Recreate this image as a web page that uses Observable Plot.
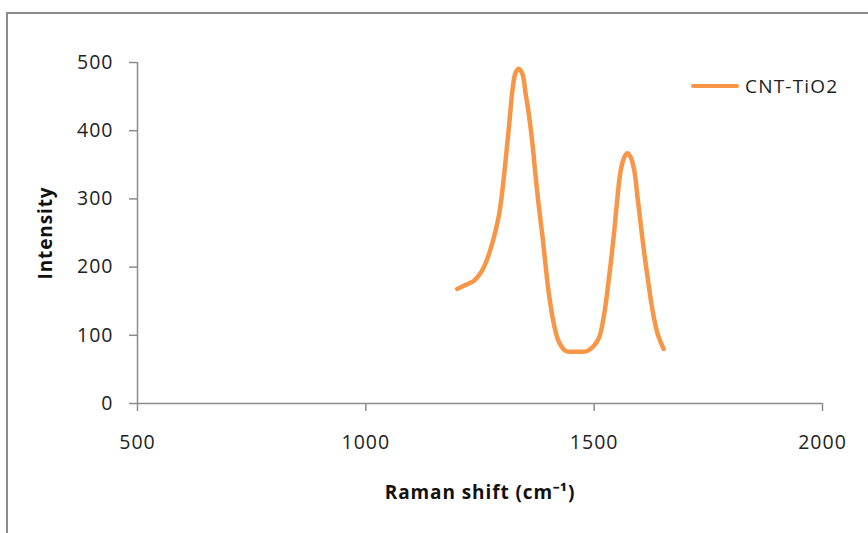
<!DOCTYPE html>
<html>
<head>
<meta charset="utf-8">
<script src="https://cdn.jsdelivr.net/npm/d3@7"></script>
<script src="https://cdn.jsdelivr.net/npm/@observablehq/plot@0.6"></script>
<style>
  html, body { margin: 0; padding: 0; background: #fff; }
  #wrap { position: relative; width: 868px; height: 533px; overflow: hidden; background: #fff; }
  #frame { position: absolute; left: 6px; top: 12px; width: 900px; height: 600px;
           border-left: 2px solid #8c8c8c; border-top: 2px solid #8c8c8c; }
  #chart { position: absolute; left: 0; top: 0; }
  #legend { position: absolute; left: 691px; top: 73px; display: flex; align-items: center;
            font-family: "Open Sans", sans-serif; font-size: 19px; letter-spacing: 1.2px; color: #222; }
  #legend .sw { width: 48px; height: 4px; background: #f79646; margin-right: 6px; border-radius: 2px; }
</style>
</head>
<body>
<div id="wrap">
  <div id="frame"></div>
  <div id="chart"></div>
  <div id="legend"><span class="sw"></span><span>CNT-TiO2</span></div>
</div>
<script>
const seriesName = "CNT-TiO2";
const ramanShift = [1200,1219,1237,1252,1263,1273,1284,1292,1299,1306,1314,1321,1328,1335,1343,1350,1357,1365,1372,1379,1387,1394,1401,1412,1423,1438,1460,1485,1500,1511,1522,1529,1536,1544,1551,1558,1566,1573,1580,1588,1595,1602,1609,1617,1628,1639,1652];
const intensity  = [168,174,180,192,207,226,253,278,312,356,410,459,485,491,483,454,424,380,332,288,244,200,160,116,90,77,76,77,85,97,131,165,204,253,302,341,361,367,361,341,302,263,224,185,136,102,80];
const xTicks = [500, 1000, 1500, 2000];
const yTicks = [0, 100, 200, 300, 400, 500];
const xLabel = "Raman shift (cm\u207B\u00B9)";
const yLabel = "Intensity";

const data = ramanShift.map((x, i) => ({x, y: intensity[i]}));
const font = "'Open Sans', sans-serif";
const axisColor = "#8c8c8c";

const plot = Plot.plot({
  width: 868,
  height: 533,
  marginLeft: 137,
  marginRight: 46,
  marginTop: 62,
  marginBottom: 130,
  style: { fontFamily: font, background: "transparent", overflow: "visible" },
  x: { domain: [500, 2000] },
  y: { domain: [0, 500] },
  marks: [
    Plot.ruleX([500], { stroke: axisColor, strokeWidth: 1.5 }),
    Plot.ruleY([0], { stroke: axisColor, strokeWidth: 1.5 }),
    Plot.axisY({ ticks: yTicks, tickSize: 8, tickPadding: 16, stroke: axisColor, strokeWidth: 1.5,
                 fontSize: 19.5, fill: "#222", label: null, tickFormat: d => String(d) }),
    Plot.axisX({ ticks: xTicks, tickSize: 8, tickPadding: 24, stroke: axisColor, strokeWidth: 1.5,
                 fontSize: 19.5, fill: "#222", label: null, tickFormat: d => String(d) }),
    Plot.line(data, { x: "x", y: "y", stroke: "#f79646", strokeWidth: 4.5, curve: "catmull-rom",
                      strokeLinecap: "round", strokeLinejoin: "round" }),
    Plot.text([yLabel], { frameAnchor: "left", textAnchor: "middle", dx: -92, rotate: -90, fontSize: 19,
                          fontWeight: "bold", fill: "#111", fontFamily: font }),
    Plot.text([xLabel], { frameAnchor: "bottom", textAnchor: "middle", dy: 95, fontSize: 19,
                          fontWeight: "bold", fill: "#111", fontFamily: font })
  ]
});
plot.querySelectorAll("g[aria-label='y-axis tick label'] text, g[aria-label='x-axis tick label'] text")
  .forEach(t => t.setAttribute("letter-spacing", "1"));
plot.querySelectorAll("g[aria-label='text'] text")
  .forEach(t => t.setAttribute("letter-spacing", "0.9"));
document.getElementById("chart").appendChild(plot);
</script>
</body>
</html>
